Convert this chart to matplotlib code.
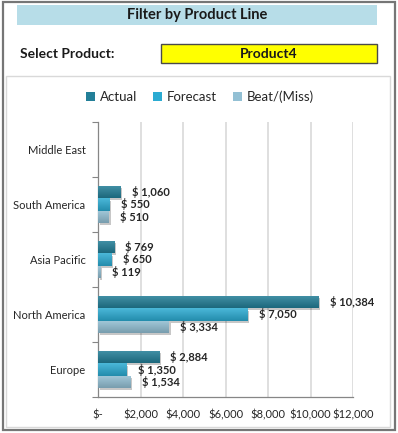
import matplotlib
matplotlib.use("Agg")
import matplotlib.pyplot as plt
import matplotlib.patches as mpatches
import matplotlib.patheffects as pe
from matplotlib.ticker import FuncFormatter, FixedLocator
import numpy as np

# ---- data ----
regions = ["Middle East", "South America", "Asia Pacific", "North America", "Europe"]
actual = [0, 1060, 769, 10384, 2884]
forecast = [0, 550, 650, 7050, 1350]
beat = [0, 510, 119, 3334, 1534]
series_names = ["Actual", "Forecast", "Beat/(Miss)"]
x_ticks = [0, 2000, 4000, 6000, 8000, 10000, 12000]
title_text = "Filter by Product Line"
select_label = "Select Product:"
selected_product = "Product4"

# ---- style ----
W, H = 398, 433
FONT = ["Lato", "DejaVu Sans"]
c_actual = "#237f98"
c_forecast = "#2babd2"
c_beat = "#93c0d4"
colors = [c_actual, c_forecast, c_beat]
text_col = "#262626"

fig = plt.figure(figsize=(W / 100, H / 100), dpi=100)
fig.patch.set_facecolor("white")

def px_rect(x0, y0, x1, y1, **kw):
    r = mpatches.Rectangle((x0 / W, 1 - y1 / H), (x1 - x0) / W, (y1 - y0) / H,
                           transform=fig.transFigure, zorder=-5, **kw)
    fig.add_artist(r)
    return r

# outer frame
px_rect(3, 2, 395, 430, facecolor="white", edgecolor="#767676", linewidth=1.6)
# title banner
px_rect(17, 5, 377, 25, facecolor="#b7dde8", edgecolor="none")
fig.text(197 / W, 1 - 15.5 / H, title_text, ha="center", va="center",
         fontsize=10.5, fontweight="bold", color="#1a1a1a", family=FONT)
# select product row
fig.text(20 / W, 1 - 54.5 / H, select_label, ha="left", va="center",
         fontsize=10, fontweight="bold", color="#1a1a1a", family=FONT)
px_rect(161, 44, 377, 63, facecolor="#ffff00", edgecolor="#4a4a4a", linewidth=1.0)
fig.text(269 / W, 1 - 54 / H, selected_product, ha="center", va="center",
         fontsize=10, fontweight="bold", color="#1a1a1a", family=FONT)
# chart box
px_rect(6, 76, 390, 427, facecolor="white", edgecolor="#d9d9d9", linewidth=1.0)

# ---- axes ----
ax = fig.add_axes([98 / W, 1 - 397 / H, (353 - 98) / W, (397 - 122) / H])
ax.set_zorder(5)
ax.set_facecolor("none")
n = len(regions)
ypos = np.arange(n)[::-1]  # Middle East at top
bh = 0.22
off = 0.23
all_series = [actual, forecast, beat]
offsets = [off, 0.0, -off]

shadow = [pe.SimplePatchShadow(offset=(1.2, -1.6), shadow_rgbFace="#000000", alpha=0.22), pe.Normal()]
for vals, col, o, name in zip(all_series, colors, offsets, series_names):
    bars = ax.barh(ypos + o, vals, height=bh, color=col, edgecolor="none",
                   label=name, zorder=3, path_effects=shadow)
    # subtle vertical gradient: lighter top, darker bottom
    base = np.array(matplotlib.colors.to_rgb(col))
    light = np.clip(base + (1 - base) * 0.15, 0, 1)
    dark = base * 0.82
    grad = np.linspace(0, 1, 32)[:, None]
    img = light[None, None, :] * (1 - grad[..., None]) + dark[None, None, :] * grad[..., None]
    img = np.repeat(img, 2, axis=1)
    for b, v in zip(bars, vals):
        if v <= 0:
            continue
        bx, by = b.get_x(), b.get_y()
        im = ax.imshow(img, extent=(bx, bx + b.get_width(), by, by + b.get_height()),
                       aspect="auto", origin="upper", zorder=4, interpolation="bilinear")
        im.set_clip_path(b)
        ax.annotate(f"$ {v:,}", (v, b.get_y() + b.get_height() / 2),
                    xytext=(8, 0), textcoords="offset points",
                    ha="left", va="center", fontsize=8, fontweight="bold",
                    color=text_col, family=FONT, zorder=6)

ax.set_xlim(0, 12000)
ax.set_ylim(-0.5, n - 0.5)
ax.xaxis.set_major_locator(FixedLocator(x_ticks))
ax.xaxis.set_major_formatter(FuncFormatter(lambda v, p: "$-" if v == 0 else f"${int(v):,}"))
ax.set_yticks(ypos)
ax.set_yticklabels(regions)
ax.yaxis.set_minor_locator(FixedLocator(np.arange(-0.5, n, 1.0)))
ax.tick_params(axis="y", which="major", length=0, pad=9, labelsize=8, labelcolor=text_col)
ax.tick_params(axis="y", which="minor", length=4, width=0.8, color="#868686", direction="out")
ax.tick_params(axis="x", which="major", length=0, pad=9, labelsize=8, labelcolor=text_col)
for lab in ax.get_xticklabels() + ax.get_yticklabels():
    lab.set_family(FONT)
ax.grid(axis="x", color="#d9d9d9", linewidth=1.2, zorder=0)
ax.set_axisbelow(True)
for s in ["top", "right"]:
    ax.spines[s].set_visible(False)
for s in ["left", "bottom"]:
    ax.spines[s].set_color("#868686")
    ax.spines[s].set_linewidth(0.9)

# legend
handles = [mpatches.Patch(facecolor=c, edgecolor="none") for c in colors]
fig.legend(handles, series_names, loc="center", bbox_to_anchor=(200 / W, 1 - 97 / H),
           ncol=3, frameon=False, handlelength=0.7, handleheight=0.7, handletextpad=0.35,
           columnspacing=1.2, prop={"family": FONT, "size": 9.5}, labelcolor=text_col)

fig.savefig("out.png", dpi=100)
